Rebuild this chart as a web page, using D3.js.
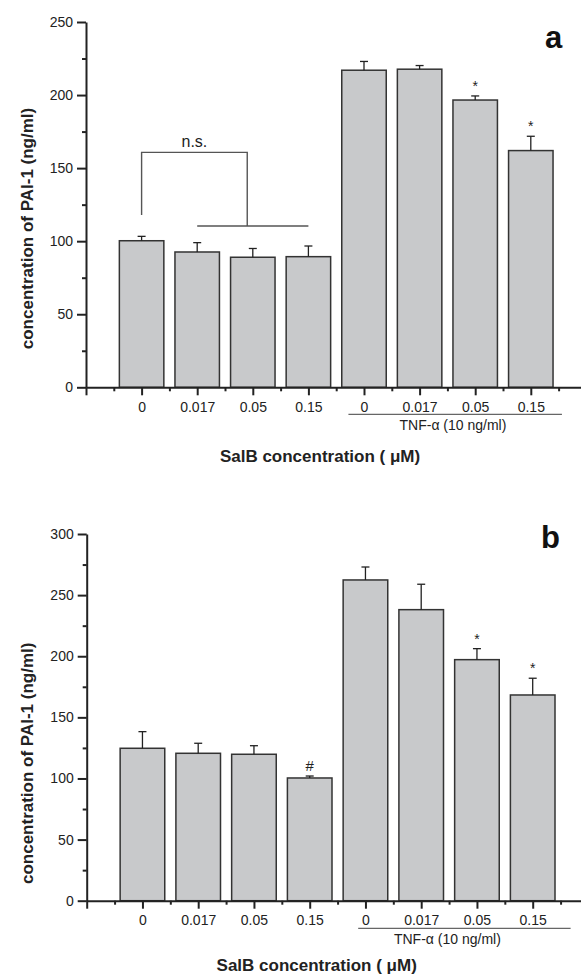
<!DOCTYPE html>
<html>
<head>
<meta charset="utf-8">
<script src="https://cdn.jsdelivr.net/npm/d3@7"></script>
<style>
  body { margin: 0; background: #fff; }
  svg { display: block; font-family: "Liberation Sans", Arial, sans-serif; }
</style>
</head>
<body>
<svg id="chart" width="581" height="977"></svg>
<script>
// data
const categories = ['0', '0.017', '0.05', '0.15', '0', '0.017', '0.05', '0.15']
const meansA = [100.3, 92.6, 89, 89.4, 217, 217.7, 196.6, 162]
const errorsA = [3, 6.4, 6, 7.3, 6, 2.5, 2.8, 9.8]
const marksA = ['', '', '', '', '', '', '*', '*']
const meansB = [124.7, 120.6, 119.8, 100.4, 262.4, 238.1, 197.2, 168.3]
const errorsB = [13.6, 8.2, 7, 1.6, 10.6, 20.8, 9, 13.7]
const marksB = ['', '', '', '#', '', '', '*', '*']
const yTicksA = [0, 50, 100, 150, 200, 250]
const yTicksB = [0, 50, 100, 150, 200, 250, 300]
const yLabel = 'concentration of PAI-1 (ng/ml)'
const xLabel = 'SalB concentration ( μM)'
const groupLabel = 'TNF-α (10 ng/ml)'

const svg = d3.select('#chart')
const ink = '#222'

function drawPanel (p) {
  const g = svg.append('g')
  const x = d3.scaleLinear().domain([0, 9]).range([p.left, p.left + 9 * p.step])
  const y = d3.scaleLinear().domain([0, p.yMax]).range([p.bottom, p.top])
  const barW = 0.8

  // bars
  const rows = p.means.map((m, i) => ({ k: i + 1, m, e: p.errors[i], mark: p.marks[i] }))
  g.selectAll('rect.bar').data(rows).enter().append('rect')
    .attr('x', d => x(d.k - barW / 2))
    .attr('width', x(barW) - x(0))
    .attr('y', d => y(d.m))
    .attr('height', d => y(0) - y(d.m))
    .attr('fill', '#c8c9cb')
    .attr('stroke', '#333')
    .attr('stroke-width', 1.5)

  // error bars
  const eb = g.selectAll('g.err').data(rows).enter().append('g')
  eb.append('line')
    .attr('x1', d => x(d.k)).attr('x2', d => x(d.k))
    .attr('y1', d => y(d.m)).attr('y2', d => y(d.m + d.e))
    .attr('stroke', ink).attr('stroke-width', 1.3)
  eb.append('line')
    .attr('x1', d => x(d.k) - 4).attr('x2', d => x(d.k) + 4)
    .attr('y1', d => y(d.m + d.e)).attr('y2', d => y(d.m + d.e))
    .attr('stroke', ink).attr('stroke-width', 1.3)
  eb.filter(d => d.mark).append('text')
    .attr('x', d => x(d.k))
    .attr('y', d => y(d.m + d.e) - 5)
    .attr('text-anchor', 'middle')
    .attr('font-size', d => d.mark === '#' ? 15 : 14)
    .attr('fill', ink)
    .text(d => d.mark)

  // y axis
  const yAxis = g.append('g').attr('transform', `translate(${p.left},0)`)
    .call(d3.axisLeft(y).tickValues(p.yTicks).tickSize(9).tickSizeOuter(0).tickPadding(4))
  g.append('g').attr('transform', `translate(${p.left},0)`)
    .call(d3.axisLeft(y).tickValues(p.yTicks.slice(1).map(v => v - 25)).tickSize(4).tickSizeOuter(0).tickFormat(''))
    .select('.domain').remove()

  // x axis
  const xAxis = g.append('g').attr('transform', `translate(0,${p.bottom})`)
    .call(d3.axisBottom(x).tickValues(d3.range(0, 9)).tickSize(8).tickSizeOuter(0).tickPadding(6.5)
      .tickFormat(k => categories[k - 1] || ''))
  g.append('g').attr('transform', `translate(0,${p.bottom})`)
    .call(d3.axisBottom(x).tickValues(d3.range(0.5, 9, 1)).tickSize(4).tickSizeOuter(0).tickFormat(''))
    .select('.domain').remove()

  g.selectAll('.tick line, .domain').attr('stroke', ink).attr('stroke-width', 2)
  g.selectAll('.tick text').attr('font-size', 14).attr('fill', ink)
    .attr('font-family', '"Liberation Sans", Arial, sans-serif')

  // TNF group underline and label
  g.append('line')
    .attr('x1', x(p.groupFrom)).attr('x2', x(p.groupTo))
    .attr('y1', p.groupLineY).attr('y2', p.groupLineY)
    .attr('stroke', '#666').attr('stroke-width', 1.3)
  g.append('text')
    .attr('x', x(p.groupMid)).attr('y', p.groupTextY)
    .attr('text-anchor', 'middle').attr('font-size', 14).attr('fill', ink)
    .text(groupLabel)

  // axis titles
  g.append('text')
    .attr('transform', `translate(33,${p.yLabelMid}) rotate(-90)`)
    .attr('text-anchor', 'middle').attr('font-size', 17).attr('font-weight', 'bold').attr('fill', ink)
    .text(yLabel)
  g.append('text')
    .attr('x', p.xLabelMid).attr('y', p.xLabelY)
    .attr('text-anchor', 'middle').attr('font-size', 17).attr('font-weight', 'bold').attr('fill', ink)
    .text(xLabel)

  // panel letter
  g.append('text')
    .attr('x', p.letterX).attr('y', p.letterY)
    .attr('font-size', 31).attr('font-weight', 'bold').attr('fill', '#111')
    .text(p.letter)

  return { x, y, g }
}

const a = drawPanel({
  means: meansA, errors: errorsA, marks: marksA, yTicks: yTicksA, yMax: 250,
  left: 86, step: 55.6, top: 22, bottom: 387.3,
  groupFrom: 4.72, groupTo: 8.56, groupMid: 6.6, groupLineY: 414.3, groupTextY: 430,
  yLabelMid: 228.5, xLabelMid: 320, xLabelY: 462,
  letter: 'a', letterX: 545, letterY: 48
})

drawPanel({
  means: meansB, errors: errorsB, marks: marksB, yTicks: yTicksB, yMax: 300,
  left: 86.7, step: 55.75, top: 534, bottom: 900.7,
  groupFrom: 4.87, groupTo: 8.68, groupMid: 6.47, groupLineY: 928.3, groupTextY: 943.5,
  yLabelMid: 763.3, xLabelMid: 316.7, xLabelY: 971,
  letter: 'b', letterX: 541, letterY: 548
})

// n.s. bracket over the SalB-only groups in panel a
const bracket = [
  [[1, 118], [1, 160.8], [2.9, 160.8], [2.9, 110.4]],
  [[2, 110.4], [4, 110.4]]
]
const line = d3.line().x(d => a.x(d[0])).y(d => a.y(d[1]))
a.g.selectAll('path.bracket').data(bracket).enter().append('path')
  .attr('d', line).attr('fill', 'none').attr('stroke', '#555').attr('stroke-width', 1.4)
a.g.append('text')
  .attr('x', a.x(1.95)).attr('y', a.y(164.7))
  .attr('text-anchor', 'middle').attr('font-size', 16).attr('fill', ink)
  .text('n.s.')
</script>
</body>
</html>
